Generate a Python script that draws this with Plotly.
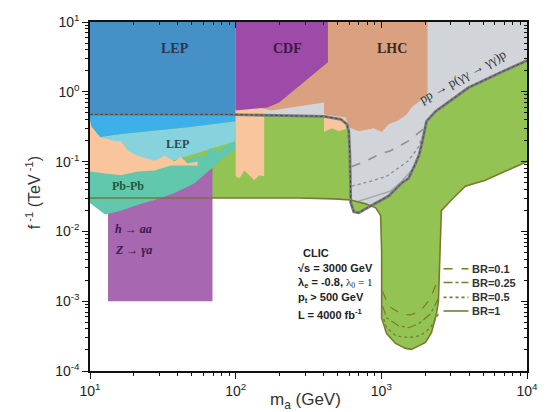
import plotly.graph_objects as go

# ---------------- data (m_a in GeV, f^-1 in TeV^-1) ----------------
# pp -> p(γγ -> γγ)p exclusion boundary (outer, BR=1)
pp_m = [10, 83.7, 404, 527, 580, 598, 608, 617, 647, 700, 781, 915, 1122, 1377,
        1538, 1717, 1828, 1916, 2042, 2350, 3953, 6640, 10000]
pp_f = [0.474, 0.474, 0.444, 0.404, 0.343, 0.273, 0.130, 0.0256, 0.0191, 0.0185,
        0.0211, 0.0256, 0.0321, 0.049, 0.0576, 0.0937, 0.130, 0.198, 0.378, 0.522,
        1.14, 1.91, 2.8]
# inner BR curves of the pp region
pp_br01_m = [627, 794, 989, 1158, 1538, 1858, 1946]
pp_br01_f = [0.0851, 0.103, 0.130, 0.143, 0.198, 0.265, 0.292]
pp_br025_m = [627, 845, 1087, 1538, 1800, 1916]
pp_br025_f = [0.0445, 0.0523, 0.0615, 0.103, 0.163, 0.232]
pp_br05_m = [700, 819, 1158, 1377, 1700, 1887]
pp_br05_f = [0.0272, 0.0301, 0.0378, 0.052, 0.085, 0.152]

# CLIC reach (BR=1) lower boundary
clic_m = [10, 272, 472, 617, 781, 915, 989, 1005, 1005, 1087, 1253, 1467, 1611,
          2009, 2208, 2389, 2466, 2545, 2583, 3025, 3770, 5166, 7780, 10000]
clic_f = [0.0301, 0.0301, 0.0292, 0.0282, 0.0248, 0.0218, 0.0168, 0.00506, 5.76e-4,
          3.43e-4, 2.48e-4, 2.11e-4, 2.04e-4, 2.56e-4, 3.54e-4, 6.56e-4, 1.0e-3,
          0.0147, 0.0198, 0.0282, 0.0445, 0.054, 0.0797, 0.100]
well_br01_m = [1021, 1122, 1377, 1587, 1858, 2173, 2466]
well_br01_f = [1.38e-3, 8.51e-4, 6.56e-4, 6.35e-4, 7.23e-4, 1.10e-3, 2.11e-3]
well_br025_m = [1021, 1087, 1313, 1538, 1800, 2173, 2466]
well_br025_f = [8.51e-4, 5.76e-4, 4.45e-4, 4.17e-4, 4.74e-4, 6.56e-4, 1.10e-3]
well_br05_m = [1038, 1087, 1253, 1538, 1858, 2173, 2466]
well_br05_f = [5.57e-4, 4.17e-4, 3.21e-4, 3.01e-4, 3.21e-4, 4.17e-4, 6.56e-4]

# existing bounds
lep_m = [10, 100, 100, 10]
lep_f = [0.474, 0.474, 10, 10]
lb_m = [10, 100, 100, 46.8, 16.3, 11.7, 10.2, 10]
lb_f = [0.474, 0.474, 0.378, 0.311, 0.248, 0.225, 0.321, 0.391]
cy_m = [11.7, 16.3, 46.8, 100, 100, 30, 11.7]
cy_f = [0.225, 0.248, 0.311, 0.378, 0.198, 0.09, 0.1]
pb_m = [10, 12.7, 16.3, 21.3, 27.8, 35.8, 44.6, 54.7, 61.1, 66.1, 74.9, 86.4, 100,
        100, 81.1, 69.3, 52.2, 38.1, 27.8, 21.3, 16.3, 12.7, 10]
pb_f = [0.0797, 0.0723, 0.0678, 0.0771, 0.0797, 0.0937, 0.100, 0.121, 0.1175, 0.157,
        0.138, 0.173, 0.198, 0.152, 0.110, 0.0823, 0.049, 0.0354, 0.0282, 0.024,
        0.0198, 0.0174, 0.0256]
tanL_m = [10, 10.2, 11.7, 14.8, 16.3, 18.2, 21.3, 27.8, 32.5, 38.1, 41.9, 46.8, 54.7,
          54.7, 35.8, 27.8, 21.3, 16.3, 12.7, 10]
tanL_f = [0.391, 0.321, 0.225, 0.198, 0.198, 0.143, 0.121, 0.103, 0.121, 0.100,
          0.1175, 0.0937, 0.100, 0.0879, 0.0879, 0.0747, 0.0723, 0.0635, 0.0678, 0.0723]
ha_m = [13.3, 69.3, 69.3, 13.3]
ha_f = [0.001, 0.001, 0.08, 0.08]
tanC_m = [100, 157, 157, 145, 134, 124, 115, 106, 100]
tanC_f = [0.576, 0.576, 0.0615, 0.0635, 0.054, 0.0635, 0.0747, 0.0576, 0.0615]
pk_m = [404, 571, 571, 511, 458, 404]
pk_f = [0.43, 0.43, 0.292, 0.273, 0.301, 0.265]
lhc_m = [152, 2075, 2075, 1800, 1611, 1490, 1313, 1122, 1005, 887, 700, 598, 571,
         404, 404, 175, 152]
lhc_f = [10, 10, 0.908, 0.723, 0.595, 0.474, 0.391, 0.343, 0.265, 0.301, 0.273,
         0.311, 0.430, 0.474, 0.700, 0.540, 0.576]
cdf_m = [100, 430, 430, 199, 165, 100]
cdf_f = [10, 10, 2.65, 0.70, 0.595, 0.54]

x_tickvals = [10, 100, 1000, 10000]
x_ticktext = ["10<sup>1</sup>", "10<sup>2</sup>", "10<sup>3</sup>", "10<sup>4</sup>"]
y_tickvals = [1e-4, 1e-3, 1e-2, 1e-1, 1, 10]
y_ticktext = ["10<sup>-4</sup>", "10<sup>-3</sup>", "10<sup>-2</sup>", "10<sup>-1</sup>",
              "10<sup>0</sup>", "10<sup>1</sup>"]
legend_labels = ["BR=0.1", "BR=0.25", "BR=0.5", "BR=1"]
legend_dashes = ["dash", "dashdot", "dot", "solid"]

# ---------------- styles ----------------
C_GRAY = "#d1d4d9"
C_GREEN = "#93c353"
C_OLIVE = "#7a7a2e"
C_LEP = "#4591c7"
C_LB = "#3eb0e9"
C_CY = "#86d3dd"
C_PB = "#62c8ad"
C_TAN = "#f9c59c"
C_HA = "#a867b1"
C_LHC = "#d9a17f"
C_CDF = "#9e4aa8"
SANS = "Arial, Liberation Sans, sans-serif"
SERIF = "Liberation Serif, Times New Roman, serif"

fig = go.Figure()


def area(m, f, color):
    fig.add_trace(go.Scatter(x=m + m[:1], y=f + f[:1], mode="lines", fill="toself",
                             fillcolor=color, line=dict(width=0, color=color),
                             hoverinfo="skip", showlegend=False))


def curve(m, f, color, width, dash="solid"):
    fig.add_trace(go.Scatter(x=m, y=f, mode="lines",
                             line=dict(color=color, width=width, dash=dash),
                             hoverinfo="skip", showlegend=False))


# gray pp region: above the boundary
area(pp_m + [10000, 10], pp_f + [10, 10], C_GRAY)
# CLIC green region: between its lower boundary and the pp boundary
area(clic_m + pp_m[::-1], clic_f + pp_f[::-1], C_GREEN)
area(ha_m, ha_f, C_HA)
area(cy_m, cy_f, C_CY)
area(lb_m, lb_f, C_LB)
area(lep_m, lep_f, C_LEP)
area(pb_m, pb_f, C_PB)
area(tanL_m, tanL_f, C_TAN)
area(tanC_m, tanC_f, C_TAN)
area(lhc_m, lhc_f, C_LHC)
area(pk_m, pk_f, C_TAN)
area(cdf_m, cdf_f, C_CDF)

# BR curves
curve(pp_br01_m, pp_br01_f, "#8b8f96", 1.6, "dash")
curve(pp_br025_m, pp_br025_f, "#8b8f96", 1.4, "dot")
curve(pp_br05_m, pp_br05_f, "#a2a6ac", 1.4, "solid")
curve(well_br01_m, well_br01_f, C_OLIVE, 1.2, "dash")
curve(well_br025_m, well_br025_f, C_OLIVE, 1.2, "dashdot")
curve(well_br05_m, well_br05_f, C_OLIVE, 1.2, "dot")
# boundaries
curve(clic_m, clic_f, C_OLIVE, 1.6)
curve(pp_m, pp_f, "#7c7c7c", 2.8)
curve(pp_m, pp_f, "#4a4a4a", 1.0, "3px,2px")

# invisible trace on the mirror axes
fig.add_trace(go.Scatter(x=[], y=[], xaxis="x2", yaxis="y2", showlegend=False,
                         hoverinfo="skip"))

minor_x = [d * 10 ** k for k in range(1, 4) for d in range(2, 10)]
minor_y = [d * 10.0 ** k for k in range(-4, 1) for d in range(2, 10)]

axis_common = dict(type="log", showgrid=False, zeroline=False, showline=True,
                   linecolor="#111", linewidth=1.5, tickcolor="#111",
                   tickfont=dict(family=SANS, size=14, color="#222"))
fig.update_layout(
    width=550, height=412,
    margin=dict(l=90, r=21, t=16, b=41),
    paper_bgcolor="white", plot_bgcolor="white",
    xaxis=dict(range=[1, 4], tickmode="array", tickvals=x_tickvals, ticktext=x_ticktext,
               ticks="outside", ticklen=6, tickwidth=1.2,
               minor=dict(tickmode="array", tickvals=minor_x, ticks="outside",
                          ticklen=3, tickcolor="#111", showgrid=False),
               **axis_common),
    yaxis=dict(range=[-4, 1], tickmode="array", tickvals=y_tickvals, ticktext=y_ticktext,
               ticks="outside", ticklen=6, tickwidth=1.2,
               minor=dict(tickmode="array", tickvals=minor_y, ticks="outside",
                          ticklen=3, tickcolor="#111", showgrid=False),
               **axis_common),
    xaxis2=dict(range=[1, 4], overlaying="x", side="top", tickmode="array",
                tickvals=x_tickvals, showticklabels=False, ticks="inside", ticklen=6,
                minor=dict(tickmode="array", tickvals=minor_x, ticks="inside",
                           ticklen=3, tickcolor="#111"),
                **axis_common),
    yaxis2=dict(range=[-4, 1], overlaying="y", side="right", tickmode="array",
                tickvals=y_tickvals, showticklabels=False, ticks="inside", ticklen=6,
                minor=dict(tickmode="array", tickvals=minor_y, ticks="inside",
                           ticklen=3, tickcolor="#111"),
                **axis_common),
    showlegend=False,
)


def note(text, x, y, size=12, family=SANS, color="#222", xanchor="center",
         angle=0):
    fig.add_annotation(text=text, x=x, y=y, xref="paper", yref="paper",
                       showarrow=False, xanchor=xanchor, yanchor="middle",
                       textangle=angle, font=dict(family=family, size=size, color=color))


# axis titles
note("f<sup> -1</sup> (TeV<sup> -1</sup>)", -0.13, 0.51, size=16, color="#333", angle=-90)
note("m<sub>a</sub> (GeV)", 0.494, -0.085, size=17, color="#333")

# region labels
note("<b>LEP</b>", 0.194, 0.924, size=14, family=SERIF, color="#2b3550")
note("<b>CDF</b>", 0.453, 0.924, size=14, family=SERIF, color="#3a1a45")
note("<b>LHC</b>", 0.690, 0.924, size=14, family=SERIF, color="#3a2a2a")
note("<b>LEP</b>", 0.200, 0.651, size=12, family=SERIF, color="#2b4a5a")
note("<b>Pb-Pb</b>", 0.0866, 0.530, size=12, family=SERIF, color="#1e5a3a")
note("<b><i>h</i> → <i>aa</i></b>", 0.052, 0.406, size=12, family=SERIF,
     color="#3a1a4a", xanchor="left")
note("<b><i>Z</i> → <i>γa</i></b>", 0.052, 0.346, size=12, family=SERIF,
     color="#3a1a4a", xanchor="left")
note("pp → p(γγ → γγ)p", 0.852, 0.845, size=13, family=SERIF, color="#333", angle=-29)

# CLIC block
note("<b>CLIC</b>", 0.483, 0.338, size=11, xanchor="left")
note("<b>√s = 3000 GeV</b>", 0.4715, 0.296, size=11, xanchor="left")
note("<b>λ<sub>e</sub> = -0.8, </b><span style='font-family:Liberation Serif'>λ<sub>0</sub> = 1</span>",
     0.4715, 0.2535, size=11, xanchor="left")
note("<b>p<sub>t</sub> &gt; 500 GeV</b>", 0.4715, 0.208, size=11, xanchor="left")
note("<b>L = 4000 fb<sup>-1</sup></b>", 0.4715, 0.163, size=11, xanchor="left")

# BR legend
leg_y = [0.293, 0.2535, 0.211, 0.172]
for lab, dsh, yy in zip(legend_labels, legend_dashes, leg_y):
    fig.add_shape(type="line", xref="paper", yref="paper", x0=0.809, x1=0.866,
                  y0=yy, y1=yy, line=dict(color=C_OLIVE, width=1.6, dash=dsh))
    note("<b>" + lab + "</b>", 0.870, yy, size=11, xanchor="left", color="#333")

fig.write_html("out.html", config={"displayModeBar": False},
               post_script="document.body.style.margin='0';document.body.style.overflow='hidden';")
